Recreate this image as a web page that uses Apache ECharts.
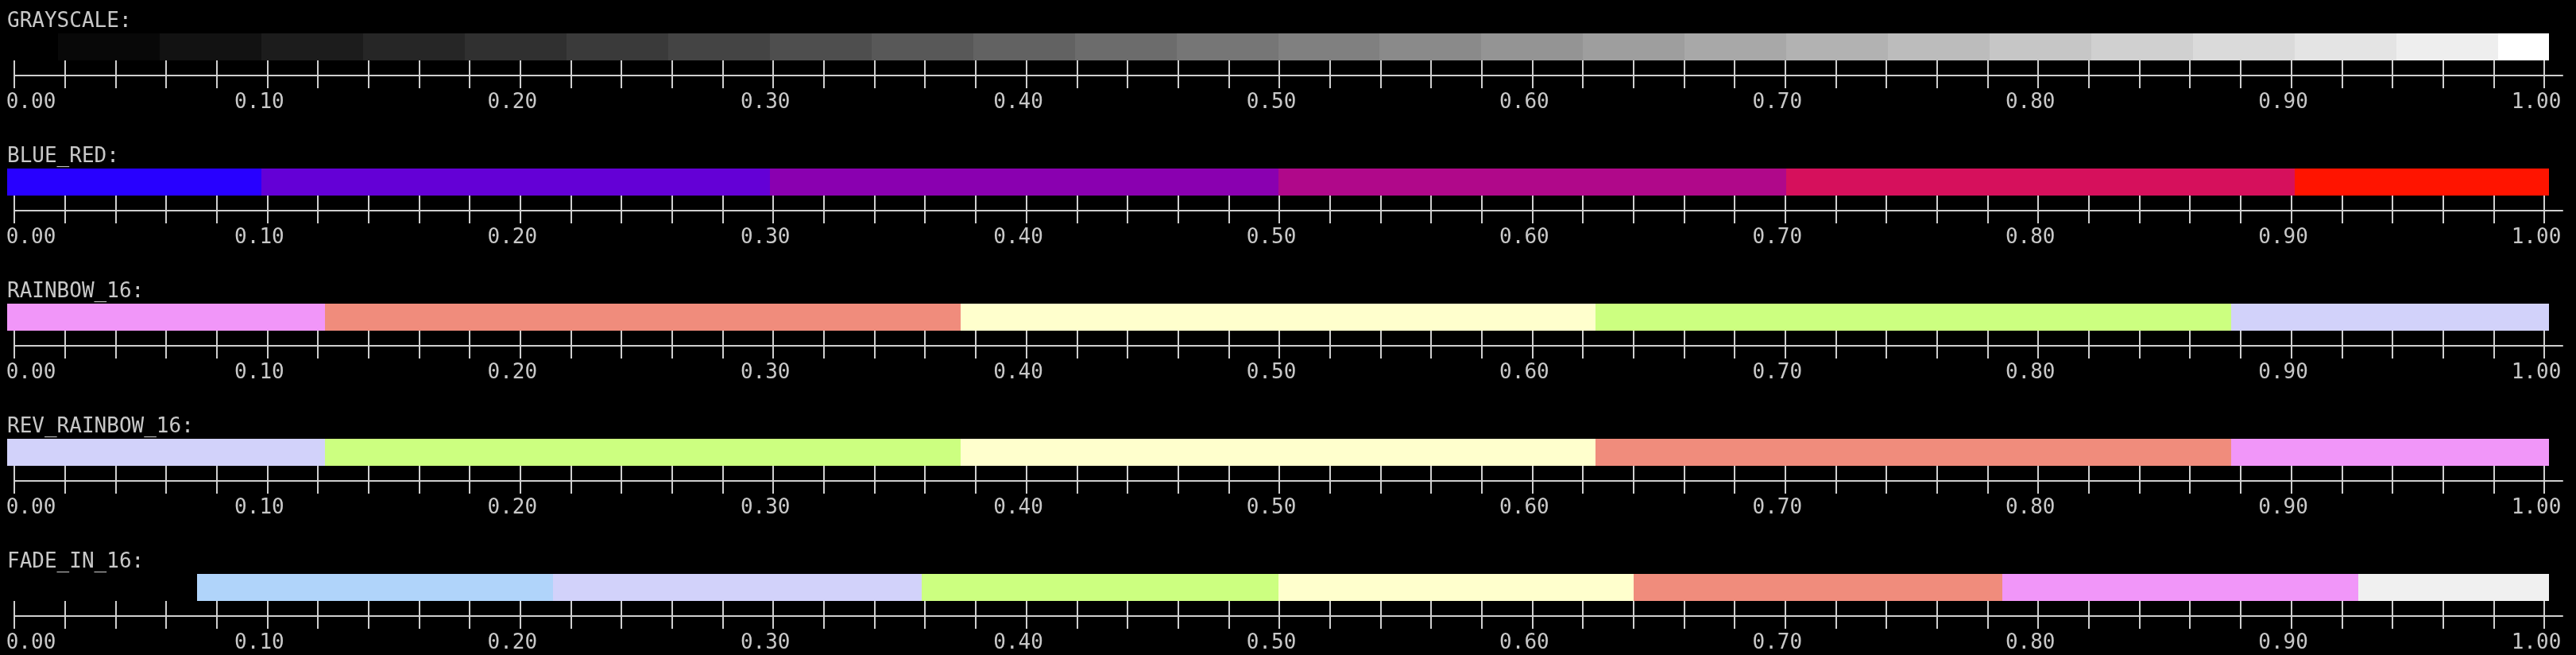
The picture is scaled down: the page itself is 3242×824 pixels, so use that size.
<!DOCTYPE html>
<html>
<head>
<meta charset="utf-8">
<script src="https://cdn.jsdelivr.net/npm/echarts@6/dist/echarts.min.js"></script>
<style>
  html, body { margin: 0; padding: 0; background: #000; }
  #chart { width: 3242px; height: 824px; }
</style>
</head>
<body>
<div id="chart"></div>
<script>
// ---------------- DATA ----------------
const rowNames = ['GRAYSCALE:', 'BLUE_RED:', 'RAINBOW_16:', 'REV_RAINBOW_16:', 'FADE_IN_16:'];

const grayscaleBreaks = [0, 0.02, 0.06, 0.10, 0.14, 0.18, 0.22, 0.26, 0.30, 0.34, 0.38, 0.42, 0.46, 0.50,
  0.54, 0.58, 0.62, 0.66, 0.70, 0.74, 0.78, 0.82, 0.86, 0.90, 0.94, 0.98, 1];
const grayscaleColors = ['#000000', '#080808', '#121212', '#1c1c1c', '#262626', '#303030', '#3a3a3a',
  '#444444', '#4e4e4e', '#585858', '#626262', '#6c6c6c', '#767676', '#808080', '#8a8a8a', '#949494',
  '#9e9e9e', '#a8a8a8', '#b2b2b2', '#bcbcbc', '#c6c6c6', '#d0d0d0', '#dadada', '#e4e4e4', '#eeeeee', '#ffffff'];

const blueRedBreaks = [0, 0.1, 0.3, 0.5, 0.7, 0.9, 1];
const blueRedColors = ['#2800ff', '#6400d6', '#8a00b0', '#b0088a', '#d6105c', '#ff1400'];

const rainbowBreaks = [0, 0.125, 0.375, 0.625, 0.875, 1];
const rainbowColors = ['#f196f9', '#f08c7c', '#ffffcd', '#ccff80', '#d2d2fa'];

const revRainbowBreaks = [0, 0.125, 0.375, 0.625, 0.875, 1];
const revRainbowColors = ['#d2d2fa', '#ccff80', '#ffffcd', '#f08c7c', '#f196f9'];

const fadeInBreaks = [0, 0.0747, 0.2148, 0.3598, 0.5, 0.6398, 0.7848, 0.925, 1];
const fadeInColors = ['#000000', '#b0d4fa', '#d2d2fa', '#ccff80', '#ffffcd', '#f08c7c', '#f196f9', '#f0f0f0'];

const tickLabels = ['0.00', '0.10', '0.20', '0.30', '0.40', '0.50', '0.60', '0.70', '0.80', '0.90', '1.00'];
const tickStep = 0.02;

// ---------------- STYLE / LAYOUT ----------------
const FONT = 'DejaVu Sans Mono';
const FS = 26;
const TEXT = '#c8c8c8';
const AXIS = '#cfcfcf';
const W = 3242;
const ROW_PITCH = 170;
const TITLE_TOP = 14;
const BAR_LEFT = 9, BAR_RIGHT_X = 3208, BAR_TOP = 42, BAR_H = 34;
const AX_LEFT = 18, AX_RIGHT_X = 3202, AX_LINE_END = 3225, AX_Y = 95;
const TICK_UP = 19, TICK_DOWN = 16;

const rows = [
  [grayscaleBreaks, grayscaleColors],
  [blueRedBreaks, blueRedColors],
  [rainbowBreaks, rainbowColors],
  [revRainbowBreaks, revRainbowColors],
  [fadeInBreaks, fadeInColors]
];

const title = [], grid = [], xAxis = [], yAxis = [], series = [];
const hiddenY = (gi) => ({ type: 'value', gridIndex: gi, min: 0, max: 1, show: false });

rows.forEach(([breaks, colors], r) => {
  const oy = r * ROW_PITCH;
  title.push({
    text: rowNames[r], left: BAR_LEFT, top: oy + TITLE_TOP, padding: 0,
    textStyle: { fontFamily: FONT, fontSize: FS, fontWeight: 'normal', color: TEXT }
  });

  // bar grid
  const gBar = grid.length;
  grid.push({ left: BAR_LEFT, width: BAR_RIGHT_X - BAR_LEFT, top: oy + BAR_TOP, height: BAR_H });
  xAxis.push({ type: 'value', gridIndex: gBar, min: 0, max: 1, show: false });
  yAxis.push(hiddenY(gBar));
  const data = [];
  for (let i = 0; i < colors.length; i++) {
    data.push({ value: [breaks[i], breaks[i + 1]], itemStyle: { color: colors[i] } });
  }
  series.push({
    type: 'custom', xAxisIndex: gBar, yAxisIndex: gBar, silent: true, animation: false,
    data: data,
    renderItem: function (params, api) {
      const p0 = api.coord([api.value(0), 1]);
      const p1 = api.coord([api.value(1), 0]);
      const x0 = Math.round(p0[0]), x1 = Math.round(p1[0]);
      return {
        type: 'rect',
        shape: { x: x0, y: p0[1], width: x1 - x0, height: p1[1] - p0[1] },
        style: { fill: api.visual('color') }
      };
    }
  });

  // axis line grid (line extends past last tick)
  const gLine = grid.length;
  grid.push({ left: AX_LEFT, width: AX_LINE_END - AX_LEFT, top: oy + AX_Y - TICK_UP, height: TICK_UP });
  xAxis.push({
    type: 'value', gridIndex: gLine, min: 0, max: 1, position: 'bottom',
    axisLine: { show: true, lineStyle: { color: AXIS, width: 2 } },
    axisTick: { show: false }, axisLabel: { show: false }, splitLine: { show: false }
  });
  yAxis.push(hiddenY(gLine));

  // ticks going up
  const gUp = grid.length;
  grid.push({ left: AX_LEFT, width: AX_RIGHT_X - AX_LEFT, top: oy + AX_Y - TICK_UP, height: TICK_UP });
  xAxis.push({
    type: 'value', gridIndex: gUp, min: 0, max: 1, interval: tickStep, position: 'bottom',
    axisLine: { show: false },
    axisTick: { show: true, inside: true, length: TICK_UP, lineStyle: { color: AXIS, width: 2 } },
    axisLabel: { show: false }, splitLine: { show: false }
  });
  yAxis.push(hiddenY(gUp));

  // ticks going down + labels
  const gDown = grid.length;
  grid.push({ left: AX_LEFT, width: AX_RIGHT_X - AX_LEFT, top: oy + AX_Y - TICK_UP, height: TICK_UP });
  xAxis.push({
    type: 'value', gridIndex: gDown, min: 0, max: 1, interval: tickStep, position: 'bottom',
    axisLine: { show: false },
    axisTick: { show: true, inside: false, length: TICK_DOWN, lineStyle: { color: AXIS, width: 2 } },
    splitLine: { show: false },
    axisLabel: {
      show: true, margin: 21, showMinLabel: true, showMaxLabel: true, hideOverlap: false,
      fontFamily: FONT, fontSize: FS, color: TEXT,
      formatter: function (v) {
        const k = Math.round(v / tickStep);
        if (k % 5 !== 0) return '';
        const lab = tickLabels[k / 5];
        return k === 0 ? '{first|' + lab + '}' : '{n|' + lab + '}';
      },
      rich: {
        n: { fontFamily: FONT, fontSize: FS, color: TEXT, padding: [0, 20, 0, 0] },
        first: { fontFamily: FONT, fontSize: FS, color: TEXT, padding: [0, 0, 0, 42] }
      }
    }
  });
  yAxis.push(hiddenY(gDown));
});

const chart = echarts.init(document.getElementById('chart'), null, { renderer: 'canvas' });
chart.setOption({
  backgroundColor: '#000000',
  animation: false,
  title: title,
  grid: grid,
  xAxis: xAxis,
  yAxis: yAxis,
  series: series
});
</script>
</body>
</html>
